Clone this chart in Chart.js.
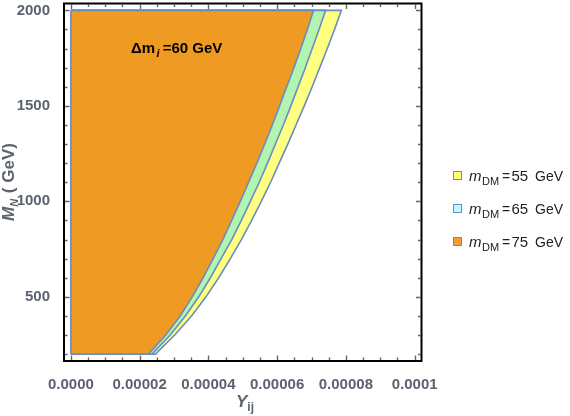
<!DOCTYPE html>
<html><head><meta charset="utf-8">
<script src="https://cdn.jsdelivr.net/npm/chart.js@4.4.1/dist/chart.umd.min.js"></script>
<style>html,body{margin:0;padding:0;background:#fff;}canvas{display:block;}</style>
</head><body>
<canvas id="c" width="570" height="416"></canvas>
<script>
// ---- data ----
const massGrid = [200,300,400,500,600,700,800,900,1000,1100,1200,1300,1400,1500,1600,1700,1800,1900,2000];
// Yukawa boundary (x) for each mass (y), per dark-matter mass
const yukawa55 = [2.46e-5,3.02e-5,3.51e-5,3.93e-5,4.30e-5,4.64e-5,4.96e-5,5.26e-5,5.54e-5,5.81e-5,6.06e-5,6.31e-5,6.55e-5,6.79e-5,7.02e-5,7.24e-5,7.46e-5,7.67e-5,7.87e-5];
const yukawa65 = [2.36e-5,2.89e-5,3.33e-5,3.72e-5,4.06e-5,4.37e-5,4.68e-5,4.96e-5,5.22e-5,5.48e-5,5.72e-5,5.95e-5,6.18e-5,6.40e-5,6.61e-5,6.82e-5,7.02e-5,7.22e-5,7.41e-5];
const yukawa75 = [2.26e-5,2.76e-5,3.18e-5,3.53e-5,3.85e-5,4.14e-5,4.42e-5,4.68e-5,4.93e-5,5.17e-5,5.41e-5,5.64e-5,5.86e-5,6.07e-5,6.28e-5,6.49e-5,6.69e-5,6.88e-5,7.06e-5];
const dmMasses = ['55','65','75'];
const xTicks = [0,0.00002,0.00004,0.00006,0.00008,0.0001];
const xTickLabels = ['0.0000','0.00002','0.00004','0.00006','0.00008','0.0001'];
const xMinorTicks = [0,0.000005,0.00001,0.000015,0.00002,0.000025,0.00003,0.000035,0.00004,0.000045,0.00005,0.000055,0.00006,0.000065,0.00007,0.000075,0.00008,0.000085,0.00009,0.000095,0.0001];
const yTicks = [500,1000,1500,2000];
const yTickLabels = ['500','1000','1500','2000'];
const yMinorTicks = [200,300,400,500,600,700,800,900,1000,1100,1200,1300,1400,1500,1600,1700,1800,1900,2000];

// ---- styles ----
const FONT = "'Liberation Sans', Arial, sans-serif";
const labelColor = '#5c6270';
const edgeColor = '#6b8cc2';
const fillColors = {'55':'#ffff80','65':'#b2f5b0','75':'#ef9a22'};
const legendColors = {'55':'#ffff80','65':'#b5ffff','75':'#f99a3a'};

function regionPoints(vals){
  const pts=[{x:0,y:massGrid[0]}];
  massGrid.forEach((m,i)=>pts.push({x:vals[i],y:m}));
  pts.push({x:0,y:massGrid[massGrid.length-1]});
  return pts;
}
const seriesMap = {'55':yukawa55,'65':yukawa65,'75':yukawa75};

const datasets = [{
  label:'edge', data:[{x:0,y:massGrid[0]},{x:0,y:massGrid[massGrid.length-1]}],
  borderColor:edgeColor, borderWidth:1.6, fill:false, pointRadius:0, tension:0
}];
['75','65','55'].forEach(k=>{
  datasets.push({
    label:k, data:regionPoints(seriesMap[k]),
    backgroundColor:fillColors[k], borderColor:edgeColor, borderWidth:1.6,
    fill:{value:0}, pointRadius:0, tension:0, borderJoinStyle:'miter'
  });
});

function drawRich(ctx, parts, x, y){
  let cx=x;
  parts.forEach(p=>{
    ctx.font=p.font; ctx.fillStyle=p.color;
    const px = (p.x!==undefined)? p.x : cx;
    ctx.fillText(p.t, px, y+(p.dy||0));
    cx = px + ctx.measureText(p.t).width + (p.gap||0);
  });
}

const decor = {
  id:'decor',
  afterDraw(chart){
    const ctx=chart.ctx, a=chart.chartArea, xs=chart.scales.x, ys=chart.scales.y;
    ctx.save();
    // ticks (inward, on all four sides)
    ctx.strokeStyle='#666'; ctx.lineWidth=1.4;
    ctx.beginPath();
    xMinorTicks.forEach(v=>{
      const px=Math.round(xs.getPixelForValue(v))+0.5;
      const len = xTicks.some(t=>Math.abs(t-v)<1e-9)?4.5:2.5;
      ctx.moveTo(px,a.bottom-1); ctx.lineTo(px,a.bottom-1-len);
      ctx.moveTo(px,a.top+1); ctx.lineTo(px,a.top+1+len);
    });
    yMinorTicks.forEach(v=>{
      const py=Math.round(ys.getPixelForValue(v))+0.5;
      const len = yTicks.includes(v)?4.5:2.5;
      ctx.moveTo(a.left+1,py); ctx.lineTo(a.left+1+len,py);
      ctx.moveTo(a.right-1,py); ctx.lineTo(a.right-1-len,py);
    });
    ctx.stroke();
    // frame
    ctx.strokeStyle='#000'; ctx.lineWidth=2;
    ctx.strokeRect(a.left,a.top,a.right-a.left,a.bottom-a.top);

    // annotation
    ctx.textBaseline='alphabetic'; ctx.textAlign='left';
    drawRich(ctx,[
      {t:'\u0394m',font:`bold 15px ${FONT}`,color:'#000',gap:1.5},
      {t:'i',font:`italic bold 11px ${FONT}`,color:'#000',dy:4,gap:3},
      {t:'=60 GeV',font:`bold 15px ${FONT}`,color:'#000'}
    ],131,53);

    // x title
    drawRich(ctx,[
      {t:'Y',font:`italic bold 17px ${FONT}`,color:labelColor,gap:0},
      {t:'ij',font:`bold 12px ${FONT}`,color:labelColor,dy:4}
    ],236,407);

    // y title (rotated)
    ctx.save();
    ctx.translate(14,221); ctx.rotate(-Math.PI/2);
    drawRich(ctx,[
      {t:'M',font:`italic bold 17px ${FONT}`,color:labelColor,gap:0},
      {t:'N',font:`italic bold 11px ${FONT}`,color:labelColor,dy:3.5,gap:1},
      {t:' ( GeV)',font:`bold 17px ${FONT}`,color:labelColor}
    ],0,0);
    ctx.restore();

    // legend
    const legY=[175.5,208.5,241.5];
    dmMasses.forEach((k,i)=>{
      const cy=legY[i];
      ctx.fillStyle=legendColors[k];
      ctx.fillRect(453.5,cy-4,8,8);
      ctx.strokeStyle=edgeColor; ctx.lineWidth=1;
      ctx.strokeRect(453.5,cy-4,8,8);
      const base=cy+3;
      drawRich(ctx,[
        {t:'m',font:`italic 15px ${FONT}`,color:'#222',x:469},
        {t:'DM',font:`11px ${FONT}`,color:'#222',dy:4,x:482},
        {t:'=',font:`14px ${FONT}`,color:'#222',x:502},
        {t:k,font:`15px ${FONT}`,color:'#222',x:511.5},
        {t:'GeV',font:`14px ${FONT}`,color:'#222',x:535}
      ],469,base+2);
    });
    ctx.restore();
  }
};

new Chart(document.getElementById('c'),{
  type:'line',
  data:{datasets},
  plugins:[decor],
  options:{
    responsive:false, animation:false, indexAxis:'y',
    layout:{padding:{left:0,top:3.5,right:148.5,bottom:0}},
    plugins:{legend:{display:false},tooltip:{enabled:false}},
    scales:{
      x:{type:'linear',position:'bottom',min:-0.000002,max:0.000102,
        afterBuildTicks:s=>{s.ticks=xTicks.map(v=>({value:v}));},
        afterFit:s=>{s.height=55; s.paddingLeft=0; s.paddingRight=0;},
        grid:{display:false},border:{display:false},
        ticks:{padding:7,color:labelColor,autoSkip:false,maxRotation:0,
          font:{family:FONT,size:15,weight:'bold'},
          callback:(v,i)=>xTickLabels[i]}},
      y:{type:'linear',position:'left',min:164,max:2036,
        afterBuildTicks:s=>{s.ticks=yTicks.map(v=>({value:v}));},
        afterFit:s=>{s.width=64; s.paddingTop=0; s.paddingBottom=0;},
        grid:{display:false},border:{display:false},
        ticks:{padding:6,color:labelColor,autoSkip:false,
          font:{family:FONT,size:15,weight:'bold'},
          callback:(v,i)=>yTickLabels[i]}}
    }
  }
});
</script>
</body></html>
